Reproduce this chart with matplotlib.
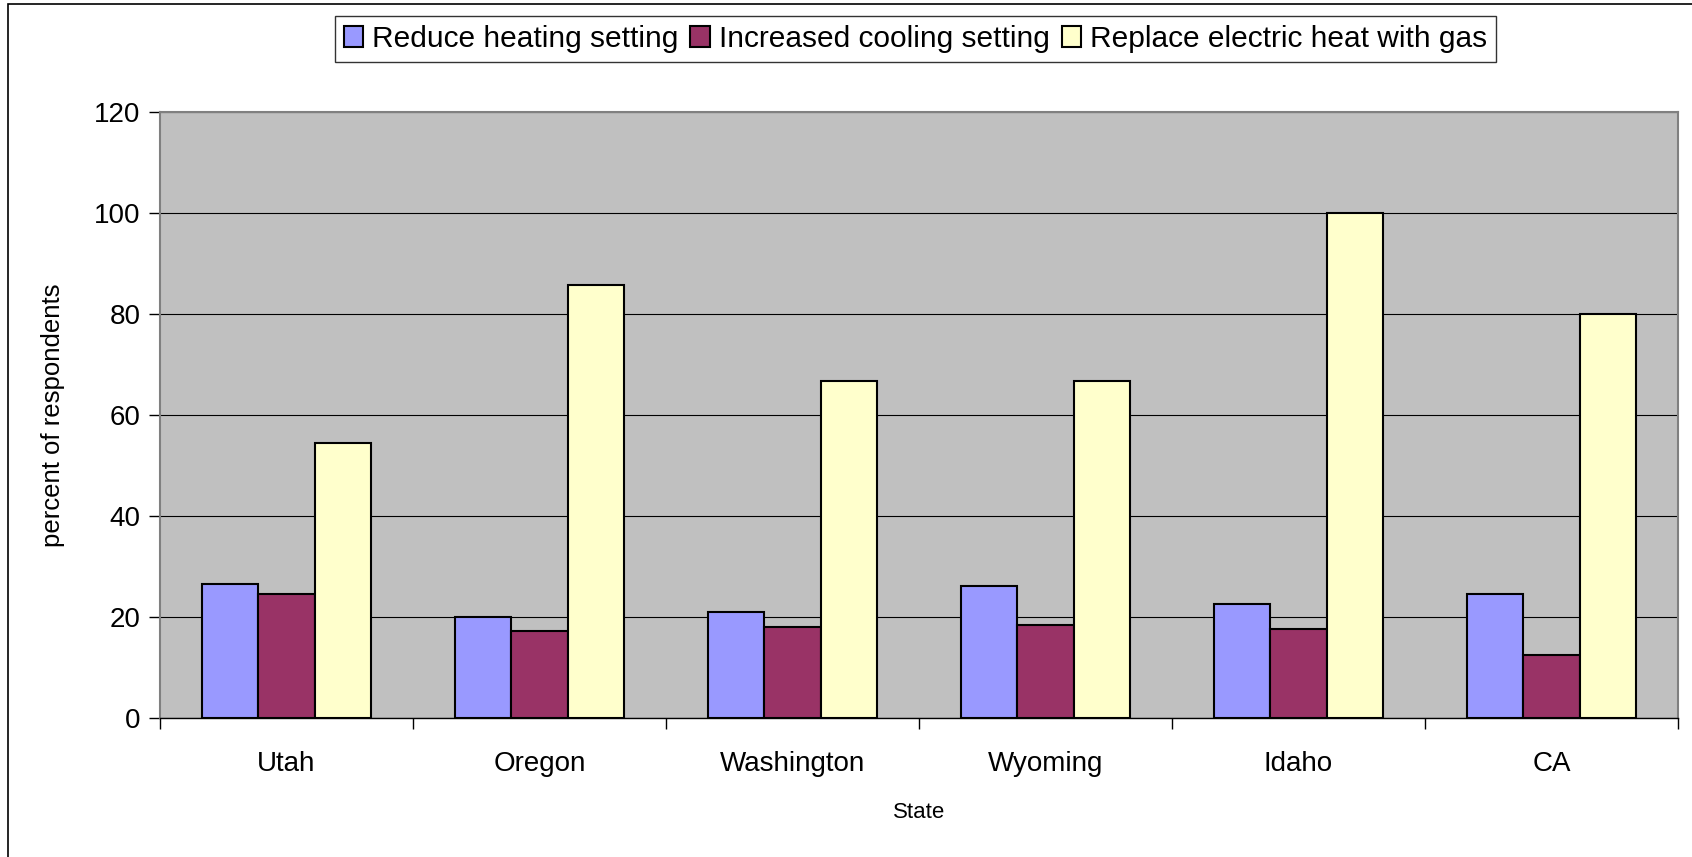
import numpy as np
import matplotlib.pyplot as plt
from matplotlib.patches import Rectangle

plt.rcParams["font.family"] = ["Liberation Sans", "DejaVu Sans"]

# --------------------------
# Daten
# --------------------------
states = ["Utah", "Oregon", "Washington", "Wyoming", "Idaho", "CA"]
reduce_heating = [26.6, 20.0, 20.9, 26.2, 22.5, 24.6]
increased_cooling = [24.6, 17.3, 18.1, 18.5, 17.7, 12.4]
replace_heat = [54.5, 85.7, 66.7, 66.7, 100.0, 80.0]

series = [
    ("Reduce heating setting", reduce_heating, "#9999FF"),
    ("Increased cooling setting", increased_cooling, "#993366"),
    ("Replace electric heat with gas", replace_heat, "#FFFFCC"),
]

fig = plt.figure(figsize=(16.92, 8.57), dpi=100)
ax = fig.add_axes([160 / 1692, 1 - 718 / 857, 1518 / 1692, 606 / 857])
ax.set_facecolor("#C0C0C0")

x = np.arange(len(states))
bw = 0.222
for i, (name, vals, col) in enumerate(series):
    ax.bar(x + (i - 1) * bw, vals, bw, color=col, edgecolor="black",
           linewidth=1.5, label=name, zorder=3)

ax.set_xlim(-0.5, len(states) - 0.5)
ax.set_ylim(0, 120)
ax.set_yticks(range(0, 121, 20))
ax.yaxis.grid(True, color="black", linewidth=0.8, zorder=1)

# Ticks an den Kategoriegrenzen, Labels in der Mitte
ax.set_xticks(np.arange(-0.5, len(states), 1.0))
ax.set_xticklabels([])
ax.set_xticks(x, minor=True)
ax.set_xticklabels(states, minor=True, fontsize=20)
ax.tick_params(axis="x", which="minor", length=0, pad=24)
ax.tick_params(axis="x", which="major", length=8, width=1, color="black", direction="out")
ax.tick_params(axis="y", length=8, width=1, labelsize=20, pad=6)

for s in ax.spines.values():
    s.set_color("#808080")
    s.set_linewidth(1.5)
ax.spines["bottom"].set_color("black")
ax.spines["bottom"].set_linewidth(1)

ax.set_ylabel("percent of respondents", fontsize=18.5, labelpad=21)
ax.set_xlabel("State", fontsize=16, labelpad=18)

leg = fig.legend(loc="center", bbox_to_anchor=(0.541, 0.9545), ncol=3,
                 fontsize=21.5, frameon=True, fancybox=False, edgecolor="black",
                 handlelength=0.65, handleheight=0.7, handletextpad=0.3,
                 columnspacing=0.4, borderpad=0.3, borderaxespad=0)
leg.get_frame().set_linewidth(1)

# äußerer Rahmen
fig.patches.append(Rectangle((8 / 1692, -0.1), 2, 1.1 - 4 / 857,
                             transform=fig.transFigure, fill=False,
                             edgecolor="black", linewidth=1.2))

fig.savefig("out.png", dpi=100)
